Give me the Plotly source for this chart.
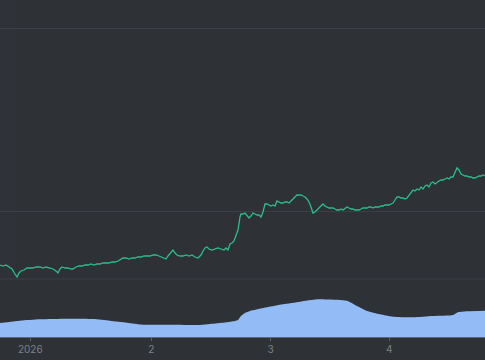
import plotly.graph_objects as go

# time index (evenly spaced bars) and price readings
t = [0,3,6,9,12,15,17,19,21,24,27,30,33,36,40,43,46,50,53,56,58,60,62,65,68,71,73,76,79,82,85,88,91,94,97,100,
     103,106,109,112,115,118,121,123,126,129,132,135,138,141,144,147,150,153,156,159,162,164,166,168,171,173,175,
     177,180,183,186,189,192,195,198,201,203,205,207,209,212,215,218,221,224,226,228,230,232,234,236,238,240,241,
     242,243,245,247,249,251,253,255,257,259,261,263,265,267,269,271,273,275,277,279,281,283,285,287,289,291,293,
     295,297,299,301,303,305,307,309,311,312,313,315,317,319,321,323,325,327,329,331,333,335,337,339,341,343,345,
     347,349,351,353,355,357,359,361,363,365,367,369,371,373,375,377,379,381,383,385,387,389,391,393,395,397,399,
     401,403,405,407,409,411,413,415,417,419,421,423,425,427,429,431,433,435,437,439,441,443,445,447,449,451,453,
     455,457,459,461,463,465,467,469,471,473,475,477,479,481,483,485]
price = [13.5,13.4,13.5,13.3,13.1,12.6,12.3,12.7,12.9,13.0,13.2,13.2,13.2,13.3,13.3,13.2,13.3,13.2,13.1,12.9,12.7,
         13.1,13.3,13.2,13.2,13.1,13.1,13.3,13.4,13.4,13.5,13.5,13.6,13.5,13.6,13.6,13.7,13.7,13.7,13.8,13.8,13.9,
         14.1,14.2,14.2,14.1,14.2,14.2,14.3,14.3,14.4,14.4,14.4,14.5,14.5,14.4,14.3,14.2,14.1,14.4,14.7,15.0,14.7,
         14.5,14.4,14.4,14.5,14.4,14.5,14.3,14.2,14.5,14.9,15.2,15.3,15.1,15.0,15.1,15.2,15.1,15.0,15.2,15.0,15.6,
         15.7,15.9,16.5,17.0,18.3,18.6,18.6,18.6,18.7,18.5,18.2,18.4,18.7,18.6,18.5,18.5,18.3,18.8,19.6,19.6,19.5,
         19.4,19.5,19.4,19.9,19.8,19.7,19.7,19.8,19.8,19.7,19.9,20.1,20.3,20.5,20.5,20.5,20.4,20.3,20.1,19.8,19.3,
         18.9,18.7,18.8,19.0,19.1,19.3,19.6,19.4,19.3,19.2,19.2,19.2,19.1,19.0,19.0,19.1,19.0,19.2,19.3,19.2,19.1,
         19.1,19.0,19.0,19.0,19.1,19.2,19.2,19.2,19.3,19.3,19.2,19.3,19.3,19.3,19.4,19.4,19.5,19.5,19.5,19.6,19.7,
         20.0,20.3,20.3,20.2,20.2,20.1,20.2,20.5,20.7,21.0,20.9,21.1,21.0,21.3,21.1,21.4,21.5,21.3,21.7,21.8,21.6,
         21.8,21.9,22.0,22.0,22.1,22.2,22.1,22.3,22.3,22.8,23.2,23.0,22.6,22.5,22.4,22.4,22.3,22.3,22.2,22.2,22.3,
         22.4,22.4,22.5,22.4]

# smoothed volume readings
vol_t = [0,20,40,67,93,110,127,143,173,200,210,225,235,238,241,245,250,267,283,300,317,327,347,357,367,380,393,
         413,433,453,458,467,485]
volume = [14,16.3,17.7,18.3,18,16.3,14.3,12.3,12.3,12,13,14.5,16,17,21,24,26,29.7,32.7,35.3,37.7,37.5,36.3,31,
          26,22.7,20.3,19.7,21,22,24.7,25.7,26.3]

# month ticks
tick_pos = [30.3, 151.3, 270.7, 389.3]
tick_text = ["2026", "2", "3", "4"]
price_grid = [18.9, 37.2]

BG = "#2e3136"
GRID = "#3b3f46"

fig = go.Figure()
fig.add_trace(go.Scatter(x=vol_t, y=volume, yaxis="y2", mode="lines", fill="tozeroy",
                         line=dict(color="#93bcf6", width=0, shape="spline", smoothing=0.6),
                         fillcolor="#93bcf6", hoverinfo="skip", showlegend=False))
fig.add_trace(go.Scatter(x=t, y=price, mode="lines",
                         line=dict(color="#2dbe8a", width=1.3), showlegend=False))

split = 58 / 337
fig.update_layout(
    width=485, height=360,
    margin=dict(l=0, r=0, t=0, b=23, pad=0),
    paper_bgcolor=BG, plot_bgcolor=BG,
    xaxis=dict(range=[0, 485], tickvals=tick_pos, ticktext=tick_text, showgrid=False,
               anchor="y2", zeroline=False, ticks="outside", ticklen=3, tickcolor="#59606b",
               showline=True, linecolor="#5d6675", linewidth=1,
               tickfont=dict(family="Inter, Roboto, sans-serif", size=10, color="#7d828a")),
    yaxis=dict(domain=[split, 1], range=[12.1, 40.0], tickvals=price_grid, showticklabels=False,
               gridcolor=GRID, gridwidth=1, zeroline=False),
    yaxis2=dict(domain=[0, split], range=[0, 58], showgrid=False, showticklabels=False,
                zeroline=False),
    shapes=[
        dict(type="line", xref="paper", yref="paper", x0=0, x1=1, y0=split, y1=split,
             line=dict(color=GRID, width=1), layer="below"),
        dict(type="rect", xref="paper", yref="paper", x0=0, x1=16 / 485, y0=split, y1=1,
             fillcolor="rgba(70,80,130,0.04)", line=dict(width=0), layer="below"),
    ],
)
fig.write_html("out.html", config={"displayModeBar": False},
               post_script="document.body.style.margin='0';document.body.style.background='%s';" % BG)
